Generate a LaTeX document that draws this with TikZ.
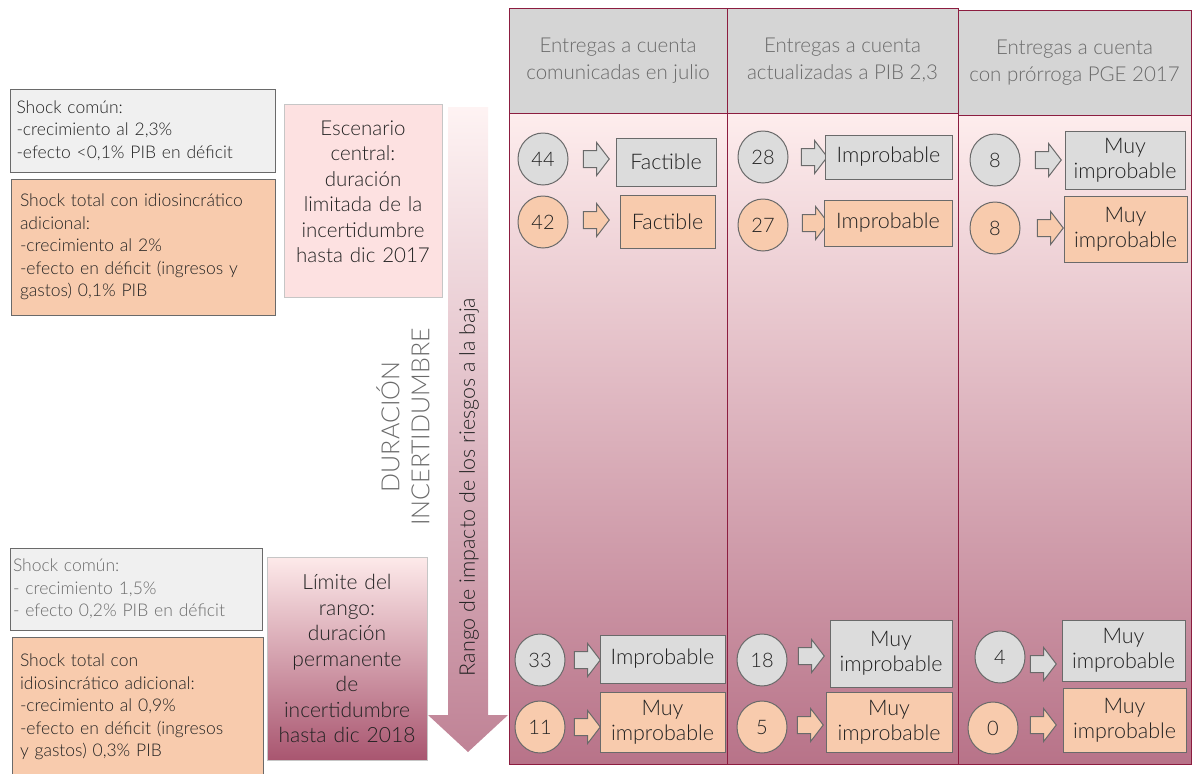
\documentclass[tikz,border=0pt]{standalone}
\usepackage{fontspec}
\setmainfont{Lato Light}
\usetikzlibrary{shapes.geometric,shapes.arrows}

\definecolor{granate}{HTML}{8C1D40}
\definecolor{grisclaro}{HTML}{F0F0F0}
\definecolor{grismedio}{HTML}{DCDCDC}
\definecolor{griscab}{HTML}{D5D5D5}
\definecolor{naranja}{HTML}{F8CBAD}
\definecolor{rosa}{HTML}{FDE1E1}
\definecolor{borde}{HTML}{6A6A6A}
\definecolor{texto}{HTML}{222222}
\definecolor{textogris}{HTML}{6A6A6A}

\newcommand\tam[2]{\fontsize{#1}{#2}\selectfont}

\tikzset{
	caja/.style={rectangle, draw=borde, line width=1pt, inner sep=0pt, text=texto},
	cajaizq/.style={caja, align=left, font=\tam{17.5}{22.5}},
	cabecera/.style={rectangle, draw=granate, line width=1pt, fill=griscab, text=textogris, align=center, font=\tam{20.5}{27}},
	cuerpo/.style={rectangle, draw=granate, line width=1pt, top color=rosa!60!white, middle color=granate!22!white, bottom color=granate!62!white},
	numero/.style={ellipse, draw=borde, line width=1pt, minimum width=50pt, minimum height=52pt, inner sep=0pt, text=texto, font=\tam{20}{22}},
	flecha/.style={single arrow, draw=borde, line width=1pt, inner xsep=0pt, inner ysep=8pt, single arrow head extend=8pt, single arrow tip angle=105, minimum height=26pt},
	resultado/.style={caja, align=center, font=\tam{21.5}{25}}
}

\begin{document}
\begin{tikzpicture}[x=1pt, y=-1pt]
		\useasboundingbox (0, 0) rectangle (1192, 774);
		% columnas
		\node[cuerpo, minimum width=218pt, minimum height=651pt] (col1) at (618, 438.5) {};
		\node[cuerpo, minimum width=231pt, minimum height=651pt] (col2) at (842.5, 438.5) {};
		\node[cuerpo, minimum width=233pt, minimum height=651pt] (col3) at (1074.5, 438.5) {};
		\node[cabecera, minimum width=218pt, minimum height=105pt] (cab1) at (618, 60.5) {Entregas a cuenta\\comunicadas en julio};
		\node[cabecera, minimum width=231pt, minimum height=105pt] (cab2) at (842.5, 60.5) {Entregas a cuenta\\actualizadas a PIB 2,3};
		\node[cabecera, minimum width=233pt, minimum height=105pt] (cab3) at (1074.5, 62.5) {Entregas a cuenta\\con prórroga PGE 2017};

		% flecha grande
		\shade[top color=rosa!40!white, bottom color=granate!55!white] (448, 107) -- (488, 107) -- (488, 715) -- (508, 715) -- (468, 752) -- (428, 715) -- (448, 715) -- cycle;
		\node[rotate=90, text=texto, font=\tam{21.5}{24}] (rango) at (469, 487) {Rango de impacto de los riesgos a la baja};
		\node[rotate=90, text=textogris, align=center, font=\tam{25}{30}] (duracion) at (403, 427) {DURACIÓN\\INCERTIDUMBRE};

		% escenarios
		\node[cajaizq, fill=grisclaro, minimum width=265pt, minimum height=83pt, text width=252pt] (sc1) at (142.5, 130.5) {Shock común:\\-crecimiento al 2,3\%\\-efecto <0,1\% PIB en déficit};
		\node[cajaizq, fill=naranja, minimum width=264pt, minimum height=136pt, text width=246pt] (st1) at (143, 247) {Shock total con idiosincrático\\adicional:\\-crecimiento al 2\%\\-efecto en déficit (ingresos y\\gastos) 0,1\% PIB};
		\node[caja, draw=gray!45, fill=rosa, minimum width=158pt, minimum height=193pt, text width=154pt, align=center, font=\tam{20.5}{25.5}] (central) at (363, 200.5) {Escenario\\central:\\duración\\limitada de la\\incertidumbre\\hasta dic 2017\\[-8pt]\mbox{}};

		\node[cajaizq, fill=grisclaro, text=textogris, minimum width=252pt, minimum height=82pt, text width=246pt] (sc2) at (136, 589) {Shock común:\\- crecimiento 1,5\%\\- efecto 0,2\% PIB en déficit};
		\node[cajaizq, fill=naranja, minimum width=251pt, minimum height=140pt, text width=235pt] (st2) at (137.5, 707) {Shock total con\\idiosincrático adicional:\\-crecimiento al 0,9\%\\-efecto en déficit (ingresos\\y gastos) 0,3\% PIB};
		\node[caja, draw=gray!45, top color=rosa!70!white, bottom color=granate!75!white, minimum width=160pt, minimum height=203pt, text width=158pt, align=center, font=\tam{21}{25.5}] (limite) at (347, 658.5) {Límite del\\rango:\\duración\\permanente\\de\\incertidumbre\\hasta dic 2018};

		% columna 1
		\node[numero, fill=grismedio] (n11) at (543, 159) {44};
		\node[flecha, fill=grismedio] (f11) at (593, 159) {};
		\node[resultado, fill=grismedio, minimum width=100pt, minimum height=48pt] (r11) at (666, 162) {Factible};
		\node[numero, fill=naranja] (n12) at (543, 222) {42};
		\node[flecha, fill=naranja] (f12) at (593, 220) {};
		\node[resultado, fill=naranja, minimum width=95pt, minimum height=53pt] (r12) at (667.5, 221.5) {Factible};
		\node[numero, fill=grismedio] (n13) at (540, 660) {33};
		\node[flecha, fill=grismedio] (f13) at (584, 660) {};
		\node[resultado, fill=grismedio, minimum width=125pt, minimum height=48pt] (r13) at (662.5, 659) {Improbable};
		\node[numero, fill=naranja] (n14) at (540, 727) {11};
		\node[flecha, fill=naranja] (f14) at (584, 727) {};
		\node[resultado, fill=naranja, minimum width=125pt, minimum height=60pt] (r14) at (662.5, 722) {Muy\\improbable};

		% columna 2
		\node[numero, fill=grismedio] (n21) at (763, 157) {28};
		\node[flecha, fill=grismedio] (f21) at (811, 157) {};
		\node[resultado, fill=grismedio, minimum width=127pt, minimum height=44pt] (r21) at (888.5, 157) {Improbable};
		\node[numero, fill=naranja] (n22) at (763, 225) {27};
		\node[flecha, fill=naranja] (f22) at (812, 223) {};
		\node[resultado, fill=naranja, minimum width=128pt, minimum height=46pt] (r22) at (888, 223) {Improbable};
		\node[numero, fill=grismedio] (n23) at (762, 660) {18};
		\node[flecha, fill=grismedio] (f23) at (808, 656) {};
		\node[resultado, fill=grismedio, minimum width=122pt, minimum height=67pt] (r23) at (891, 653.5) {Muy\\improbable};
		\node[numero, fill=naranja] (n24) at (762, 727) {5};
		\node[flecha, fill=naranja] (f24) at (807, 725) {};
		\node[resultado, fill=naranja, minimum width=126pt, minimum height=60pt] (r24) at (889, 722) {Muy\\improbable};

		% columna 3
		\node[numero, fill=grismedio] (n31) at (995, 160) {8};
		\node[flecha, fill=grismedio] (f31) at (1045, 160) {};
		\node[resultado, fill=grismedio, minimum width=120pt, minimum height=58pt] (r31) at (1125, 160) {Muy\\improbable};
		\node[numero, fill=naranja] (n32) at (995, 228) {8};
		\node[flecha, fill=naranja] (f32) at (1047, 228) {};
		\node[resultado, fill=naranja, minimum width=123pt, minimum height=66pt] (r32) at (1125.5, 229) {Muy\\improbable};
		\node[numero, fill=grismedio] (n33) at (1000, 657) {4};
		\node[flecha, fill=grismedio] (f33) at (1040, 664) {};
		\node[resultado, fill=grismedio, minimum width=123pt, minimum height=61pt] (r33) at (1123.5, 650.5) {Muy\\improbable};
		\node[numero, fill=naranja] (n34) at (993, 728) {0};
		\node[flecha, fill=naranja] (f34) at (1040, 725) {};
		\node[resultado, fill=naranja, minimum width=123pt, minimum height=64pt] (r34) at (1124.5, 720) {Muy\\improbable};
\end{tikzpicture}
\end{document}
